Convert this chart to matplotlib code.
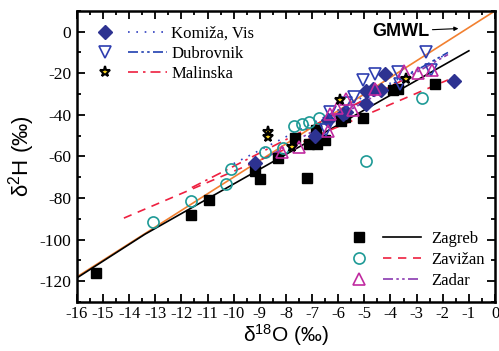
import matplotlib
matplotlib.use('Agg')
import matplotlib.pyplot as plt
from matplotlib.legend_handler import HandlerTuple
from matplotlib.ticker import MultipleLocator

plt.rcParams['axes.unicode_minus'] = False
plt.rcParams['font.family'] = ['Liberation Serif', 'DejaVu Serif']
plt.rcParams['mathtext.default'] = 'regular'

# station data (d18O, d2H)
zagreb_x = [-15.25, -11.65, -10.95, -9.2, -9.0, -8.3, -7.65, -7.2, -7.1, -6.8, -6.85, -6.5, -5.9, -5.75, -5.05, -3.9, -3.7, -2.3]
zagreb_y = [-116, -88, -81, -67, -71, -61, -51, -70.5, -54, -54, -47.5, -52, -43, -41, -41.5, -28, -27.5, -25]
zavizan_x = [-13.1, -11.65, -10.3, -10.1, -8.8, -8.1, -7.7, -7.4, -7.1, -6.75, -4.95, -2.8]
zavizan_y = [-91.5, -81.5, -73.5, -66, -58, -56, -45.5, -44.5, -43.5, -41.5, -62, -32]
komiza_x = [-9.2, -6.9, -6.4, -5.8, -5.7, -4.95, -4.95, -4.65, -4.35, -4.2, -1.55]
komiza_y = [-63, -50, -42.5, -39.5, -38.7, -35, -28.5, -27.5, -28, -20.5, -23.5]
dubrovnik_x = [-6.45, -6.3, -5.7, -5.4, -5.05, -4.6, -3.65, -3.7, -2.45, -2.65]
dubrovnik_y = [-47.5, -38.7, -34.5, -31.5, -23.2, -20.4, -25.2, -19.3, -18.3, -10]
zadar_x = [-8.15, -7.5, -6.4, -6.3, -6.05, -5.45, -5.7, -4.6, -3.5, -2.95, -2.4]
zadar_y = [-57.8, -55.4, -47.8, -39.8, -36.5, -37.9, -32.3, -27.7, -18.8, -20, -18.5]
malinska_x = [-8.7, -8.7, -7.75, -5.95, -3.4]
malinska_y = [-48.3, -50.8, -55.5, -33, -22.8]

# regression lines
gmwl_x = [-16, 0]
gmwl_y = [-118, 10]
zagreb_fx = [-16, -13.4, -1]
zagreb_fy = [-118.5, -97.5, -9.2]
zavizan_fx = [-14.2, -1.8]
zavizan_fy = [-89.7, -23.2]
komiza_fx = [-10, -1.8]
komiza_fy = [-63.5, -10.5]
dubrovnik_fx = [-7, -1.8]
dubrovnik_fy = [-47, -10]
zadar_fx = [-8.6, -1.8]
zadar_fy = [-59.5, -11]
malinska_fx = [-11.6, -3.4]
malinska_fy = [-75, -22.5]

c_kom = '#2D3291'
c_dub = '#2E3EB0'
c_teal = '#1E9A96'
c_mag = '#C02AA0'
c_red = '#EE2040'
c_pur = '#8A3AB0'
dashdotdot = (0, (6, 2, 1.5, 2, 1.5, 2))

fig = plt.figure(figsize=(4.99, 3.51), dpi=100)
ax = fig.add_axes([0.154, 0.14, 0.838, 0.829])

ax.plot(gmwl_x, gmwl_y, color='#F28030', lw=1.2, zorder=2)
l_zag, = ax.plot(zagreb_fx, zagreb_fy, color='black', lw=1.2, zorder=2)
l_zav, = ax.plot(zavizan_fx, zavizan_fy, color=c_red, lw=1.2, ls=(0, (5, 4)), zorder=2)
l_kom, = ax.plot(komiza_fx, komiza_fy, color='#3040C0', lw=1.2, ls=(0, (1, 4)), zorder=2)
l_dub, = ax.plot(dubrovnik_fx, dubrovnik_fy, color='#2040B0', lw=1.2, ls=dashdotdot, zorder=2)
l_zad, = ax.plot(zadar_fx, zadar_fy, color=c_pur, lw=1.2, ls=dashdotdot, zorder=2)
l_mal, = ax.plot(malinska_fx, malinska_fy, color=c_red, lw=1.2, ls=(0, (6, 3, 1.5, 3)), zorder=2)

m_zag, = ax.plot(zagreb_x, zagreb_y, 's', color='black', ms=7, ls='none', zorder=3)
m_zav, = ax.plot(zavizan_x, zavizan_y, 'o', mfc='none', mec=c_teal, mew=1.2, ms=8, ls='none', zorder=3)
m_kom, = ax.plot(komiza_x, komiza_y, 'D', color=c_kom, ms=7, ls='none', zorder=3)
m_dub, = ax.plot(dubrovnik_x, dubrovnik_y, 'v', mfc='none', mec=c_dub, mew=1.2, ms=9, ls='none', zorder=3)
m_zad, = ax.plot(zadar_x, zadar_y, '^', mfc='none', mec=c_mag, mew=1.2, ms=9, ls='none', zorder=3)
m_mal, = ax.plot(malinska_x, malinska_y, '*', mfc='#F5D020', mec='black', mew=1.5, ms=8, ls='none', zorder=4)

ax.set_xlim(-16, 0)
ax.set_ylim(-130, 10)
ax.xaxis.set_major_locator(MultipleLocator(1))
ax.xaxis.set_minor_locator(MultipleLocator(0.5))
ax.yaxis.set_major_locator(MultipleLocator(20))
ax.yaxis.set_minor_locator(MultipleLocator(10))
ax.tick_params(which='both', direction='in', top=True, right=True, width=1.3)
ax.tick_params(which='major', length=6, labelsize=12.5, pad=4)
ax.tick_params(axis='x', which='major', labelsize=12, pad=3)
ax.tick_params(which='minor', length=3)
for s in ax.spines.values():
    s.set_linewidth(1.8)

sans = ['Liberation Sans', 'DejaVu Sans']
ax.set_xlabel(r'$\delta^{18}$O (‰)', fontsize=15, family=sans, labelpad=0)
ax.set_ylabel(r'$\delta^{2}$H (‰)', fontsize=16, family=sans, labelpad=2)

ax.annotate('GMWL', xy=(-1.4, 1.5), xytext=(-2.5, 0.3), ha='right', va='center',
            fontsize=13, fontweight='bold', family=sans,
            arrowprops=dict(arrowstyle='-|>', lw=0.8, color='black', mutation_scale=6,
                            shrinkA=0, shrinkB=0))

leg1 = ax.legend([(m_kom, l_kom), (m_dub, l_dub), (m_mal, l_mal)],
                 ['Komiža, Vis', 'Dubrovnik', 'Malinska'],
                 handler_map={tuple: HandlerTuple(ndivide=None, pad=0.2)},
                 loc='upper left', bbox_to_anchor=(0.02, 0.95), frameon=False,
                 fontsize=12, handlelength=4.9, handletextpad=0.25, labelspacing=0.25,
                 borderpad=0, borderaxespad=0)
ax.add_artist(leg1)
ax.legend([(m_zag, l_zag), (m_zav, l_zav), (m_zad, l_zad)],
          ['Zagreb', 'Zavižan', 'Zadar'],
          handler_map={tuple: HandlerTuple(ndivide=None, pad=0.3)},
          loc='lower right', bbox_to_anchor=(0.975, 0.045), frameon=False,
          fontsize=12, handlelength=4.9, handletextpad=0.6, labelspacing=0.3,
          borderpad=0, borderaxespad=0)

fig.savefig('out.png', dpi=100)
